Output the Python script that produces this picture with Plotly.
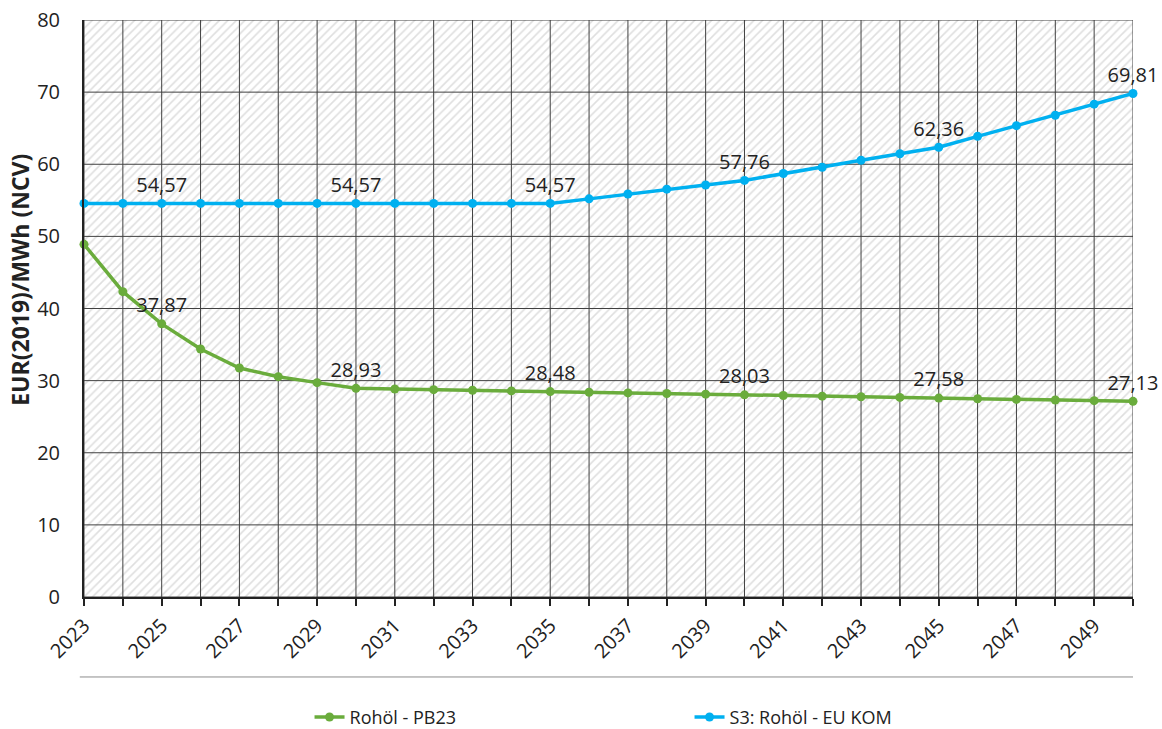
import plotly.graph_objects as go

years = list(range(2023, 2051))

rohoel_pb23 = [48.90, 42.33, 37.87, 34.38, 31.75, 30.55, 29.72, 28.93, 28.84, 28.75,
               28.66, 28.57, 28.48, 28.39, 28.30, 28.21, 28.12, 28.03, 27.94, 27.85,
               27.76, 27.67, 27.58, 27.49, 27.40, 27.31, 27.22, 27.13]

s3_eu_kom = [54.57, 54.57, 54.57, 54.57, 54.57, 54.57, 54.57, 54.57, 54.57, 54.57,
             54.57, 54.57, 54.57, 55.20, 55.87, 56.55, 57.12, 57.76, 58.72, 59.58,
             60.55, 61.45, 62.36, 63.87, 65.35, 66.80, 68.33, 69.81]

label_years = [2025, 2030, 2035, 2040, 2045, 2050]
y_ticks = list(range(0, 81, 10))
y_max = y_ticks[-1]

GREEN = "#6aac3c"
BLUE = "#00b0f0"
GRID = "#404040"
FONT = "Open Sans"


def labels(vals):
    return [f"{v:.2f}".replace(".", ",") if y in label_years else ""
            for y, v in zip(years, vals)]


fig = go.Figure()

# hatched plot background
fig.add_trace(go.Scatter(
    x=[years[0], years[-1]], y=[y_max, y_max], mode="lines",
    line=dict(width=0), fill="tozeroy", fillcolor="white",
    fillpattern=dict(shape="/", fgcolor="#c0c0c0", bgcolor="white", size=6, solidity=0.27),
    hoverinfo="skip", showlegend=False,
))

# grid drawn on top of the hatching
gx, gy = [], []
for yr in years:
    gx += [yr, yr, None]
    gy += [0, y_max, None]
for t in y_ticks:
    gx += [years[0], years[-1], None]
    gy += [t, t, None]
fig.add_trace(go.Scatter(x=gx, y=gy, mode="lines", line=dict(color=GRID, width=1),
                         hoverinfo="skip", showlegend=False))

for name, vals, color in [("Rohöl - PB23", rohoel_pb23, GREEN),
                          ("S3: Rohöl - EU KOM", s3_eu_kom, BLUE)]:
    fig.add_trace(go.Scatter(
        x=years, y=vals, name=name, mode="lines+markers+text",
        line=dict(color=color, width=3.5),
        marker=dict(color=color, size=9),
        text=labels(vals), textposition="top center",
        textfont=dict(family=FONT, size=20, color="#222"),
        cliponaxis=False,
    ))

fig.update_layout(
    width=1162, height=729,
    margin=dict(l=84, r=29, t=20, b=132),
    paper_bgcolor="white", plot_bgcolor="white",
    font=dict(family=FONT, size=20, color="#222"),
    legend=dict(orientation="h", x=0.215, xref="paper", y=0.016, yref="container",
                xanchor="left", yanchor="middle", entrywidth=335, font=dict(size=18)),
    shapes=[dict(type="line", xref="paper", yref="paper", x0=-0.004, x1=1,
                 y0=-0.1386, y1=-0.1386, line=dict(color="#8c8c8c", width=1))],
    annotations=[dict(text="<b>EUR(2019)/MWh (NCV)</b>", xref="paper", yref="paper",
                      x=-0.0605, y=0.549, xanchor="center", yanchor="middle",
                      textangle=-90, showarrow=False,
                      font=dict(size=23, color="#222"))],
)

fig.update_xaxes(
    range=[years[0], years[-1]], tickmode="array", tickvals=years,
    ticktext=[str(y) if (y - years[0]) % 2 == 0 else "" for y in years],
    tickangle=-45, ticks="outside", ticklen=7, tickcolor="#222", tickwidth=1.5,
    showgrid=False, showline=True, linecolor="#222", linewidth=2, zeroline=False,
    automargin=False, layer="above traces",
)
fig.update_yaxes(
    range=[0, y_max], tickvals=y_ticks, showgrid=False,
    showline=True, linecolor="#222", linewidth=2, zeroline=False,
    ticks="", ticklabelstandoff=18, ticklabeloverflow="allow",
    automargin=False, layer="above traces",
)

# drop the default page margin so the figure fills the window exactly
fig.write_html("out.html", config={"displayModeBar": False},
               post_script="document.body.style.margin='0';")
